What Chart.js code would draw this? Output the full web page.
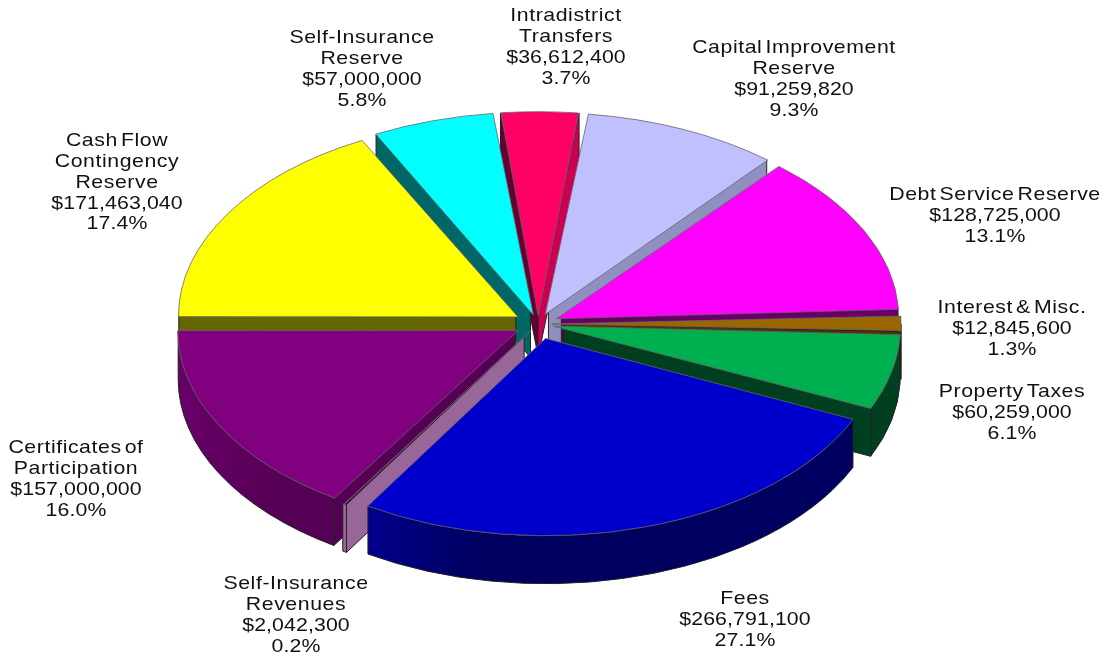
<!DOCTYPE html>
<html lang="en">
<head>
<meta charset="UTF-8">
<title>Sources of Funds</title>
<script src="https://cdn.jsdelivr.net/npm/chart.js"></script>
<style>
    html, body { margin: 0; padding: 0; background: #fff; }
    canvas { display: block; }
</style>
</head>
<body>
<canvas id="fundsPie" width="1106" height="656"></canvas>
<script>
// slices run clockwise from 9 o'clock
const names = [
    ['Cash Flow', 'Contingency', 'Reserve'],
    ['Self-Insurance', 'Reserve'],
    ['Intradistrict', 'Transfers'],
    ['Capital Improvement', 'Reserve'],
    ['Debt Service Reserve'],
    ['Interest & Misc.'],
    ['Property Taxes'],
    ['Fees'],
    ['Self-Insurance', 'Revenues'],
    ['Certificates of', 'Participation']
];
const amounts = [171463040, 57000000, 36612400, 91259820, 128725000, 12845600, 60259000, 266791100, 2042300, 157000000];
const percents = ['17.4%', '5.8%', '3.7%', '9.3%', '13.1%', '1.3%', '6.1%', '27.1%', '0.2%', '16.0%'];
const topColors = ['#ffff00', '#00ffff', '#ff0066', '#c0c0ff', '#ff00ff', '#996600', '#00b050', '#0000cc', '#996699', '#800080'];
const sideColors = ['#666600', '#006666', '#660033', '#9090c0', '#660066', '#4d3300', '#004020', '#000060', '#996699', '#550055'];
// right-hand cut faces catch more light on the red slice
const endFaceColors = ['#666600', '#006666', '#cc0052', '#9090c0', '#660066', '#4d3300', '#004020', '#000060', '#996699', '#550055'];
// outer walls brighten towards their left end
const wallLeftColors = ['#666600', '#006666', '#660033', '#9090c0', '#660066', '#4d3300', '#004020', '#00008c', '#996699', '#680068'];

// label placement: centre x and centre y of the first line
const labelX = [117, 362, 566, 794, 995, 1012, 1012, 745, 296, 76];
const labelY = [141, 38, 16, 48, 195, 308, 392, 599, 584, 448];
const LINE_HEIGHT = 20.8;

const CENTER_Y = 324;
const TILT = 0.585;
const DEPTH = 48;
const EXPLODE = 26;

// the arc element moves a slice by offset/4 * (2 - sin(sweep)), so work back from pixels
const total = amounts.reduce((a, b) => a + b, 0);
const offsets = amounts.map(v => {
    const sweep = v / total * Math.PI * 2;
    return EXPLODE * 4 / (2 - Math.sin(Math.min(Math.PI, sweep)));
});

function sliceShift(arc) {
    const mid = (arc.startAngle + arc.endAngle) / 2;
    const fix = 1 - Math.sin(Math.min(Math.PI, arc.circumference));
    const t = arc.options.offset / 4 * (1 + fix);
    return { x: arc.x + Math.cos(mid) * t, y: CENTER_Y + Math.sin(mid) * t * TILT };
}

function drawCutFace(ctx, c, rx, ry, angle, color) {
    const ex = c.x + Math.cos(angle) * rx;
    const ey = c.y + Math.sin(angle) * ry;
    ctx.fillStyle = color;
    ctx.beginPath();
    ctx.moveTo(c.x, c.y);
    ctx.lineTo(ex, ey);
    ctx.lineTo(ex, ey + DEPTH);
    ctx.lineTo(c.x, c.y + DEPTH);
    ctx.closePath();
    ctx.fill();
    ctx.stroke();
}

function drawSide(ctx, arc, i) {
    const c = sliceShift(arc);
    const rx = arc.outerRadius;
    const ry = rx * TILT;
    ctx.strokeStyle = '#222';
    ctx.lineWidth = 1;

    // a start face shows on the left half, an end face on the right half
    if (Math.cos(arc.startAngle) < 0) drawCutFace(ctx, c, rx, ry, arc.startAngle, sideColors[i]);
    if (Math.cos(arc.endAngle) > 0) drawCutFace(ctx, c, rx, ry, arc.endAngle, endFaceColors[i]);

    // only the front part of the outer wall can be seen
    const a = Math.max(arc.startAngle, 0);
    const b = Math.min(arc.endAngle, Math.PI);
    if (b <= a) return;
    const leftX = c.x + Math.cos(b) * rx;
    const wall = ctx.createLinearGradient(leftX, 0, leftX + 110, 0);
    wall.addColorStop(0, wallLeftColors[i]);
    wall.addColorStop(1, sideColors[i]);
    ctx.fillStyle = wall;
    ctx.beginPath();
    ctx.ellipse(c.x, c.y, rx, ry, 0, a, b);
    ctx.ellipse(c.x, c.y + DEPTH, rx, ry, 0, b, a, true);
    ctx.closePath();
    ctx.fill();
    ctx.stroke();
}

const tiltedPie = {
    id: 'tiltedPie',
    beforeDatasetsDraw(chart) {
        const ctx = chart.ctx;
        const arcs = chart.getDatasetMeta(0).data;
        const backToFront = arcs.map((arc, i) => i).sort((p, q) => {
            const mp = (arcs[p].startAngle + arcs[p].endAngle) / 2;
            const mq = (arcs[q].startAngle + arcs[q].endAngle) / 2;
            return Math.sin(mp) - Math.sin(mq);
        });
        backToFront.forEach(i => drawSide(ctx, arcs[i], i));

        // flatten the library's slice tops
        ctx.save();
        ctx.translate(0, CENTER_Y);
        ctx.scale(1, TILT);
        ctx.translate(0, -arcs[0].y);
    },
    afterDatasetsDraw(chart) {
        chart.ctx.restore();
    },
    afterDraw(chart) {
        const ctx = chart.ctx;
        ctx.save();
        ctx.fillStyle = '#111';
        ctx.font = '19px "Liberation Sans", Arial, sans-serif';
        ctx.textAlign = 'center';
        ctx.textBaseline = 'middle';
        ctx.wordSpacing = '-3px';
        names.forEach((name, i) => {
            const lines = name.concat('$' + amounts[i].toLocaleString('en-US'), percents[i]);
            lines.forEach((line, n) => {
                ctx.save();
                ctx.letterSpacing = n < name.length ? '0.5px' : '0.1px';
                ctx.translate(labelX[i], labelY[i] + n * LINE_HEIGHT);
                ctx.scale(1.12, 1);
                ctx.fillText(line, 0, 0);
                ctx.restore();
            });
        });
        ctx.restore();
    }
};

new Chart(document.getElementById('fundsPie'), {
    type: 'pie',
    data: {
        labels: names.map(n => n.join(' ')),
        datasets: [{
            data: amounts,
            backgroundColor: topColors,
            borderColor: '#666',
            borderWidth: 1,
            offset: offsets,
            clip: false
        }]
    },
    options: {
        responsive: false,
        animation: false,
        rotation: -90,
        radius: 337,
        layout: { padding: { right: 30 } },
        plugins: {
            legend: { display: false },
            tooltip: { enabled: false }
        }
    },
    plugins: [tiltedPie]
});
</script>
</body>
</html>
